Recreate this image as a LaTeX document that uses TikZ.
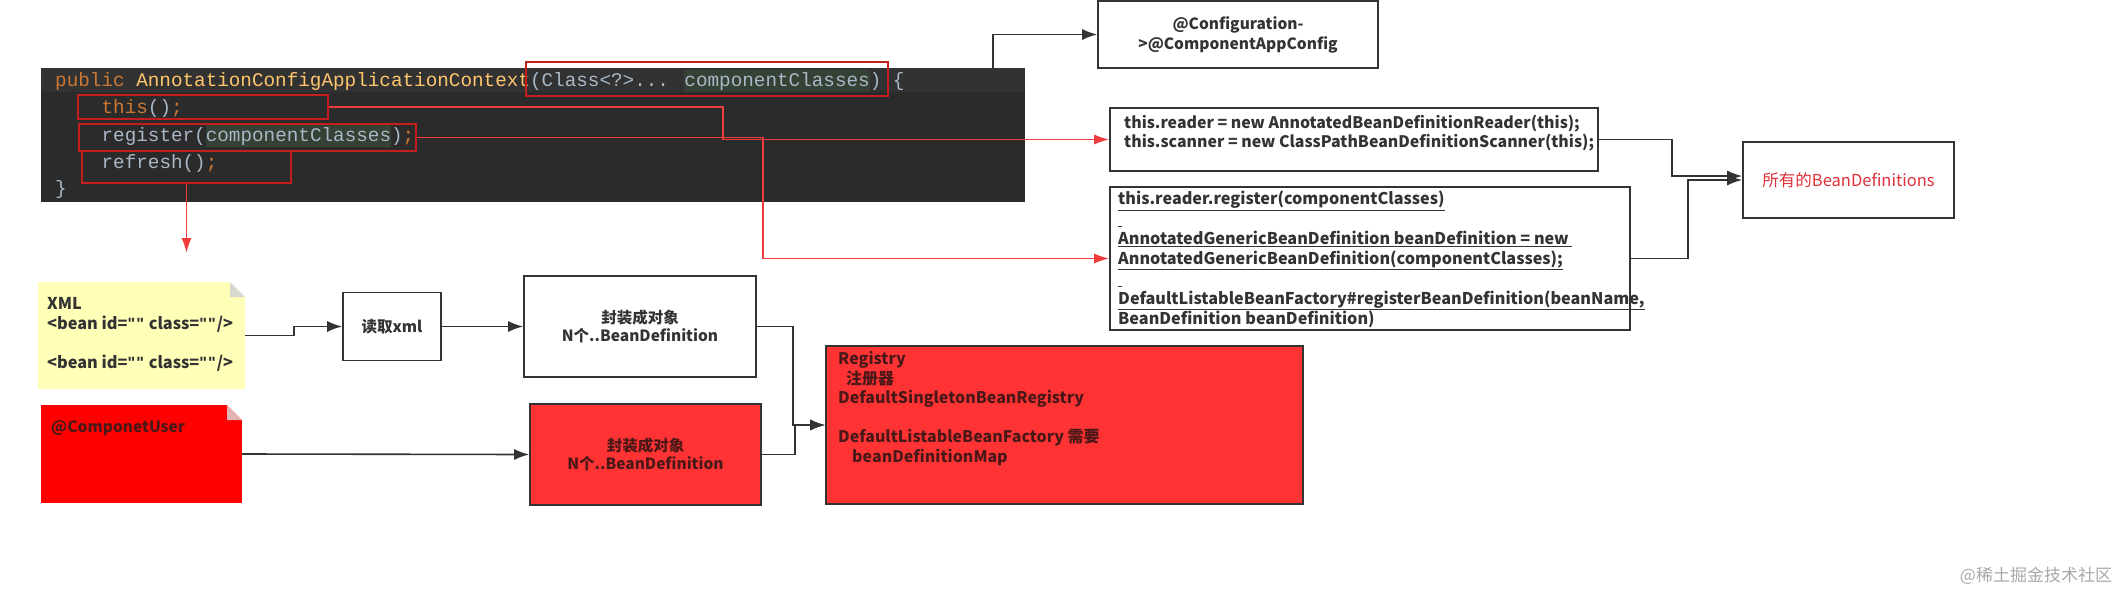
\documentclass[tikz,border=0pt]{standalone}
\usepackage{fontspec}
\setmainfont{Noto Sans CJK SC}
\newfontfamily\codefont{Liberation Mono}
\newfontfamily\latinfont{Liberation Sans}
\usetikzlibrary{arrows.meta}

\definecolor{codebg}{HTML}{2B2B2B}
\definecolor{codeline}{HTML}{323232}
\definecolor{kw}{HTML}{CC7832}
\definecolor{fn}{HTML}{FFC66D}
\definecolor{plain}{HTML}{A9B7C6}
\definecolor{usage}{HTML}{344134}
\definecolor{hlred}{HTML}{C41E1E}
\definecolor{redline}{HTML}{F03C3C}
\definecolor{edge}{HTML}{333333}
\definecolor{notey}{HTML}{FFFFB8}
\definecolor{foldy}{HTML}{D8D8CC}
\definecolor{foldr}{HTML}{E2B4B4}
\definecolor{boxred}{HTML}{FF3333}
\definecolor{darktxt}{HTML}{4A1818}
\definecolor{deftxt}{HTML}{E0303A}
\definecolor{wm}{HTML}{A8A8A8}

% usage highlight behind an identifier
\newcommand{\usg}[1]{{\setlength{\fboxsep}{0pt}\colorbox{usage}{\rule[-6pt]{0pt}{22pt}#1}}}
% straight double quote
\newcommand{\dq}{{\latinfont\char"22}\kern1pt}

\tikzset{
  box/.style={draw=edge, line width=1.6pt, fill=white, inner sep=0pt},
  redbox/.style={box, fill=boxred},
  hlbox/.style={draw=hlred, line width=1.6pt, inner sep=0pt},
  arr/.style={draw=edge, line width=1.6pt, -{Latex[length=15pt,width=11pt]}},
  redarr/.style={draw=redline, line width=1.6pt, -{Latex[length=15pt,width=10pt]}},
  code/.style={font=\codefont\fontsize{19.3}{23}\selectfont, text=plain, inner sep=0pt, anchor=base west},
  txt/.style={font=\bfseries\fontsize{15.5}{19}\selectfont, text=edge, align=left, inner sep=0pt, anchor=north west},
  note/.style={inner sep=0pt, path picture={
      \fill[white] ([xshift=-15pt]path picture bounding box.north east) -- (path picture bounding box.north east)
        -- ([yshift=-15pt]path picture bounding box.north east) -- cycle;
      \fill[#1] ([xshift=-15pt]path picture bounding box.north east) -- ([shift={(-15pt,-15pt)}]path picture bounding box.north east)
        -- ([yshift=-15pt]path picture bounding box.north east) -- cycle;}},
}

\begin{document}
\begin{tikzpicture}[x=1pt,y=-1pt]
  \useasboundingbox (0,0) rectangle (2123,592);

  % code screenshot
  \node[fill=codebg, inner sep=0pt, minimum width=984pt, minimum height=134pt] (code) at (533,135) {};
  \fill[codeline] (code.north west) rectangle ([yshift=-24pt]code.north east);
  \node[code] (lineA) at (55,86) {\textcolor{kw}{public} \textcolor{fn}{AnnotationConfigApplicationContext}(Class<?>... \usg{componentClasses}) \{};
  \node[code] (lineB) at (101.4,113) {\textcolor{kw}{this}()\textcolor{kw}{;}};
  \node[code] (lineC) at (101.4,141) {register(\usg{componentClasses})\textcolor{kw}{;}};
  \node[code] (lineD) at (101.4,168) {refresh()\textcolor{kw}{;}};
  \node[code] (lineE) at (55,194) {\}};

  % red marks on the code
  \node[hlbox, minimum width=362pt, minimum height=34pt] (paramsbox) at (707,79) {};
  \node[hlbox, minimum width=250pt, minimum height=24pt] (thisbox) at (203,107) {};
  \node[hlbox, minimum width=337pt, minimum height=27pt] (regbox) at (247.5,137.5) {};
  \node[hlbox, minimum width=209pt, minimum height=32pt] (refreshbox) at (186.5,167) {};
  \coordinate (refreshend) at (186.5,253);

  % right part
  \node[box, minimum width=280pt, minimum height=67pt, align=center,
        font=\bfseries\fontsize{15.5}{20}\selectfont, text=edge] (config) at (1238,34.5) {@Configuration-\\>@ComponentAppConfig};
  \node[box, minimum width=488pt, minimum height=63pt] (reader) at (1354,139.5) {};
  \node[txt, font=\bfseries\fontsize{15.9}{19}\selectfont] (readertext) at (1124,115)
    {this.reader = new AnnotatedBeanDefinitionReader(this);\\this.scanner = new ClassPathBeanDefinitionScanner(this);};
  \node[box, minimum width=520pt, minimum height=143pt] (regdef) at (1370,258.5) {};
  \node[txt, font=\bfseries\fontsize{16.2}{19.9}\selectfont] (regdeftext) at (1118,191)
    {\underline{this.reader.register(componentClasses)}\\
     \underline{\hspace{4pt}}\\
     \underline{AnnotatedGenericBeanDefinition beanDefinition = new }\\
     \underline{AnnotatedGenericBeanDefinition(componentClasses);}\\
     \underline{\hspace{4pt}}\\
     \underline{DefaultListableBeanFactory\#registerBeanDefinition(beanName,}\\
     \underline{BeanDefinition beanDefinition)}\\
     \underline{\hspace{4pt}}};
  \node[box, minimum width=211pt, minimum height=76pt, text=deftxt,
        font=\fontsize{16.5}{20}\selectfont] (defs) at (1848.5,180) {所有的BeanDefinitions};

  % left part
  \node[note=foldy, fill=notey, minimum width=207pt, minimum height=107pt] (xml) at (141.5,335.5) {};
  \node[txt, font=\bfseries\fontsize{16.3}{19.7}\selectfont] (xmltext) at (47,297)
    {XML\\<bean id=\dq\dq{} class=\dq\dq/>\\\mbox{}\\<bean id=\dq\dq{} class=\dq\dq/>};
  \node[note=foldr, fill=red, minimum width=201pt, minimum height=98pt] (comp) at (141.5,454) {};
  \node[txt, text=darktxt] (comptext) at (51,420) {@ComponetUser};
  \node[box, minimum width=98pt, minimum height=68pt, font=\bfseries\fontsize{15.5}{19}\selectfont, text=edge] (readxml) at (392,326.5) {读取xml};
  \node[box, minimum width=232pt, minimum height=101pt, align=center,
        font=\bfseries\fontsize{15.5}{18.5}\selectfont, text=edge] (def1) at (640,326.5) {封装成对象\\N个..BeanDefinition};
  \node[redbox, minimum width=231pt, minimum height=101pt, align=center,
        font=\bfseries\fontsize{15.5}{18.5}\selectfont, text=darktxt] (def2) at (645.5,454.5) {封装成对象\\N个..BeanDefinition};
  \node[redbox, minimum width=477pt, minimum height=158pt] (registry) at (1064.5,425) {};
  \node[txt, text=darktxt, font=\bfseries\fontsize{16}{19.5}\selectfont] (registrytext) at (838,351)
    {Registry\\\hspace{8pt}注册器\\DefaultSingletonBeanRegistry\\\mbox{}\\DefaultListableBeanFactory 需要\\\hspace{14pt}beanDefinitionMap};

  % connectors
  \draw[arr] ([xshift=-32pt]code.north east) |- (config.west);
  \draw[redarr] (thisbox.east) -- ++(394,0) |- (reader.west);
  \draw[redarr] (regbox.east) -- ++(346,0) |- (regdef.west);
  \draw[redarr] (refreshbox.south) -- (refreshend);
  \draw[arr] (reader.east) -- ++(73,0) |- ([yshift=4pt]defs.west);
  \draw[arr] (regdef.east) -- ++(57,0) |- (defs.west);
  \draw[arr] (xml.east) -- ++(49,0) |- (readxml.west);
  \draw[arr] (readxml) -- (def1);
  \draw[arr] (def1.east) -- ++(36,0) |- (registry.west);
  \draw[arr] (def2.east) -- ++(33,0) |- (registry.west);
  \draw[arr] (comp.east) -- (def2.west);

  \node[text=wm, font=\fontsize{17}{17}\selectfont] (wmark) at (2036,576) {@稀土掘金技术社区};
\end{tikzpicture}
\end{document}
